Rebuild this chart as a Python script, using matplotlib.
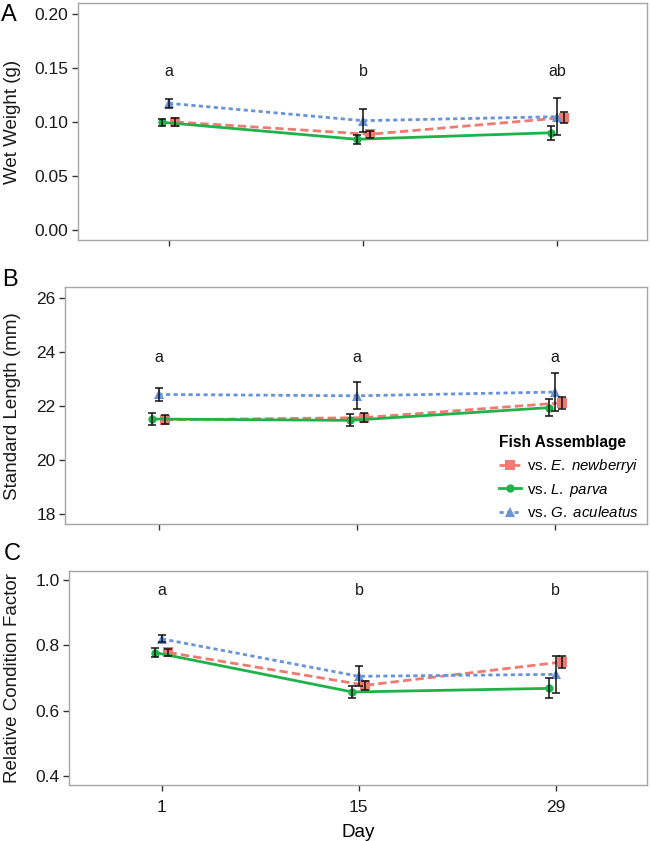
import matplotlib
matplotlib.use('Agg')
import matplotlib.pyplot as plt
import numpy as np

plt.rcParams['font.family'] = ['Liberation Sans', 'DejaVu Sans']
plt.rcParams['mathtext.fontset'] = 'custom'
plt.rcParams['mathtext.rm'] = 'Liberation Sans'
plt.rcParams['mathtext.it'] = 'Liberation Sans:italic'

# ---------------- data ----------------
days = [1, 15, 29]
day_labels = ['1', '15', '29']
group_names = ['vs. $\\mathit{E.}$ $\\mathit{newberryi}$', 'vs. $\\mathit{L.}$ $\\mathit{parva}$',
               'vs. $\\mathit{G.}$ $\\mathit{aculeatus}$']

# Wet weight (g)
ww_en = [0.100, 0.0886, 0.104]
ww_en_se = [0.004, 0.0033, 0.005]
ww_lp = [0.0997, 0.084, 0.090]
ww_lp_se = [0.0035, 0.004, 0.0067]
ww_ga = [0.1173, 0.1012, 0.1049]
ww_ga_se = [0.0043, 0.0105, 0.017]
ww_letters = ['a', 'b', 'ab']

# Standard length (mm)
sl_en = [21.49, 21.57, 22.12]
sl_en_se = [0.17, 0.17, 0.22]
sl_lp = [21.52, 21.47, 21.94]
sl_lp_se = [0.23, 0.22, 0.32]
sl_ga = [22.43, 22.38, 22.52]
sl_ga_se = [0.23, 0.50, 0.71]
sl_letters = ['a', 'a', 'a']

# Relative condition factor
rc_en = [0.778, 0.6775, 0.749]
rc_en_se = [0.012, 0.013, 0.018]
rc_lp = [0.7776, 0.657, 0.668]
rc_lp_se = [0.013, 0.017, 0.031]
rc_ga = [0.8196, 0.705, 0.711]
rc_ga_se = [0.011, 0.031, 0.057]
rc_letters = ['a', 'b', 'b']

# ---------------- style ----------------
colors = ['#F07A72', '#1EB24A', '#6993D8']
markers = ['s', 'o', '^']
msizes = [6.5, 6, 7]
dashes = [(3.0, 1.5), None, (1.5, 1.2)]
dodge = [0.47, -0.47, 0.0]
W, H = 650, 841

fig = plt.figure(figsize=(W / 100, H / 100), dpi=100)

def px_axes(left, top, right, bottom):
    return fig.add_axes([left / W, 1 - bottom / H, (right - left) / W, (bottom - top) / H])

panels = [
    dict(box=(77.7, 3.3, 647.3, 240), ylim=(-0.0093, 0.2099), ticks=[0.00, 0.05, 0.10, 0.15, 0.20],
         fmt='{:.2f}', ylabel='Wet Weight (g)', letters=ww_letters, ly=0.147, tag='A', tagpos=(9, 15),
         series=[(ww_en, ww_en_se), (ww_lp, ww_lp_se), (ww_ga, ww_ga_se)]),
    dict(box=(65.3, 287.3, 647.3, 524), ylim=(17.63, 26.4), ticks=[18, 20, 22, 24, 26],
         fmt='{:.0f}', ylabel='Standard Length (mm)', letters=sl_letters, ly=23.8, tag='B', tagpos=(10, 280),
         series=[(sl_en, sl_en_se), (sl_lp, sl_lp_se), (sl_ga, sl_ga_se)]),
    dict(box=(69.3, 571, 647.3, 785), ylim=(0.372, 1.0276), ticks=[0.4, 0.6, 0.8, 1.0],
         fmt='{:.1f}', ylabel='Relative Condition Factor', letters=rc_letters, ly=0.967, tag='C', tagpos=(12, 554),
         series=[(rc_en, rc_en_se), (rc_lp, rc_lp_se), (rc_ga, rc_ga_se)]),
]

for i, p in enumerate(panels):
    ax = px_axes(*p['box'])
    handles = []
    for g, (vals, se) in enumerate(p['series']):
        x = np.array(days, dtype=float) + dodge[g]
        ln, = ax.plot(x, vals, color=colors[g], lw=2.0, marker=markers[g], ms=msizes[g],
                      markeredgewidth=0, zorder=3, label=group_names[g])
        if dashes[g] is not None:
            ln.set_dashes(dashes[g])
        ax.errorbar(x, vals, yerr=se, fmt='none', ecolor='#111111', elinewidth=1.1,
                    capsize=2.8, capthick=1.1, zorder=4)
        handles.append(ln)
    for d, lt in zip(days, p['letters']):
        ax.text(d, p['ly'], lt, ha='center', va='center', fontsize=11.5, color='#1a1a1a')
    ax.set_xlim(-5.58, 35.5)
    ax.set_ylim(*p['ylim'])
    ax.set_yticks(p['ticks'])
    ax.set_yticklabels([p['fmt'].format(t) for t in p['ticks']])
    ax.set_xticks(days)
    if i == 2:
        ax.set_xticklabels(day_labels)
        ax.set_xlabel('Day', fontsize=13.5, labelpad=6)
    else:
        ax.set_xticklabels([])
    ax.tick_params(axis='both', length=4, width=1, color='#333333', labelsize=12.5,
                   labelcolor='#1a1a1a')
    ax.tick_params(axis='y', pad=3)
    ax.tick_params(axis='x', pad=7)
    for s in ax.spines.values():
        s.set_color('#a6a6a6')
        s.set_linewidth(1.0)
    l, t, r, b = p['box']
    ax.set_ylabel(p['ylabel'], fontsize=13.5, va='center', color='#1a1a1a')
    ax.yaxis.set_label_coords(13 / W, 1 - ((t + b) / 2) / H, transform=fig.transFigure)
    fig.text(p['tagpos'][0] / W, 1 - p['tagpos'][1] / H, p['tag'], fontsize=17,
             ha='center', va='center', color='black')
    if i == 1:
        leg = ax.legend(handles=handles, title='Fish Assemblage', loc='upper left',
                        bbox_to_anchor=(0.745, 0.375), frameon=False, fontsize=10.8,
                        title_fontproperties={'weight': 'bold', 'size': 11.2},
                        handlelength=1.5, handletextpad=0.4, labelspacing=0.45,
                        borderpad=0, borderaxespad=0)
        leg._legend_box.align = 'left'

fig.savefig('out.png', dpi=100)
